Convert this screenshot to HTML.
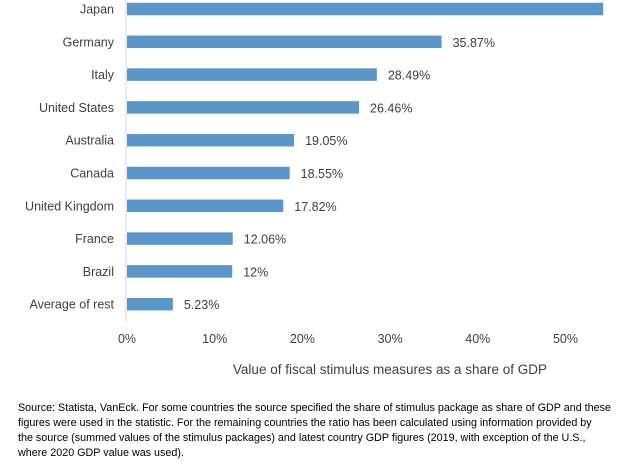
<!DOCTYPE html>
<html><head><meta charset="utf-8"><style>
body{margin:0;background:#fff;width:617px;height:467px;overflow:hidden;font-family:"Liberation Sans",sans-serif;}
svg{display:block}
</style></head><body>
<svg width="617" height="467">
<g id="plot"></g>
<text x="390" y="374" text-anchor="middle" font-size="13.5" fill="#404040">Value of fiscal stimulus measures as a share of GDP</text>
<g font-size="10.75" fill="#000">
<text x="18" y="411">Source: Statista, VanEck. For some countries the source specified the share of stimulus package as share of GDP and these</text>
<text x="18" y="426">figures were used in the statistic. For the remaining countries the ratio has been calculated using information provided by</text>
<text x="18" y="441">the source (summed values of the stimulus packages) and latest country GDP figures (2019, with exception of the U.S.,</text>
<text x="18" y="456">where 2020 GDP value was used).</text>
</g>
</svg>
<script>
const categories=["Japan","Germany","Italy","United States","Australia","Canada","United Kingdom","France","Brazil","Average of rest"];
const values=[54.3,35.87,28.49,26.46,19.05,18.55,17.82,12.06,12,5.23];
const valueLabels=["","35.87%","28.49%","26.46%","19.05%","18.55%","17.82%","12.06%","12%","5.23%"];
const ticks=[0,10,20,30,40,50];
const ns="http://www.w3.org/2000/svg";
const g=document.getElementById('plot');
const x0=127,pxPer=8.77,y0=9,step=32.8,bh=12.5;
const xs=v=>x0+v*pxPer, ys=i=>y0+i*step;
function mk(t,a){const e=document.createElementNS(ns,t);for(const k in a)e.setAttribute(k,a[k]);g.appendChild(e);return e;}
const ax=mk('line',{x1:x0-1,x2:x0-1,y1:0,y2:322,stroke:'#d9d9d9','stroke-width':1});


categories.forEach((c,i)=>{
 const cy=ys(i);
 const r=mk('rect',{x:x0,y:cy-bh/2,width:xs(values[i])-x0,height:bh,fill:'#5b96cb'});
 
 
 const t=mk('text',{x:114,y:cy+4.5,'text-anchor':'end','font-size':12.5,fill:'#404040'});t.textContent=c;
 
 
 if(valueLabels[i]){const v=mk('text',{x:xs(values[i])+11,y:cy+5,'font-size':12.5,fill:'#404040'});v.textContent=valueLabels[i];
 
 }
});
ticks.forEach(tk=>{const t=mk('text',{x:xs(tk),y:343,'text-anchor':'middle','font-size':12.5,fill:'#404040'});t.textContent=tk+'%';
 
 });
</script>
</body></html>
